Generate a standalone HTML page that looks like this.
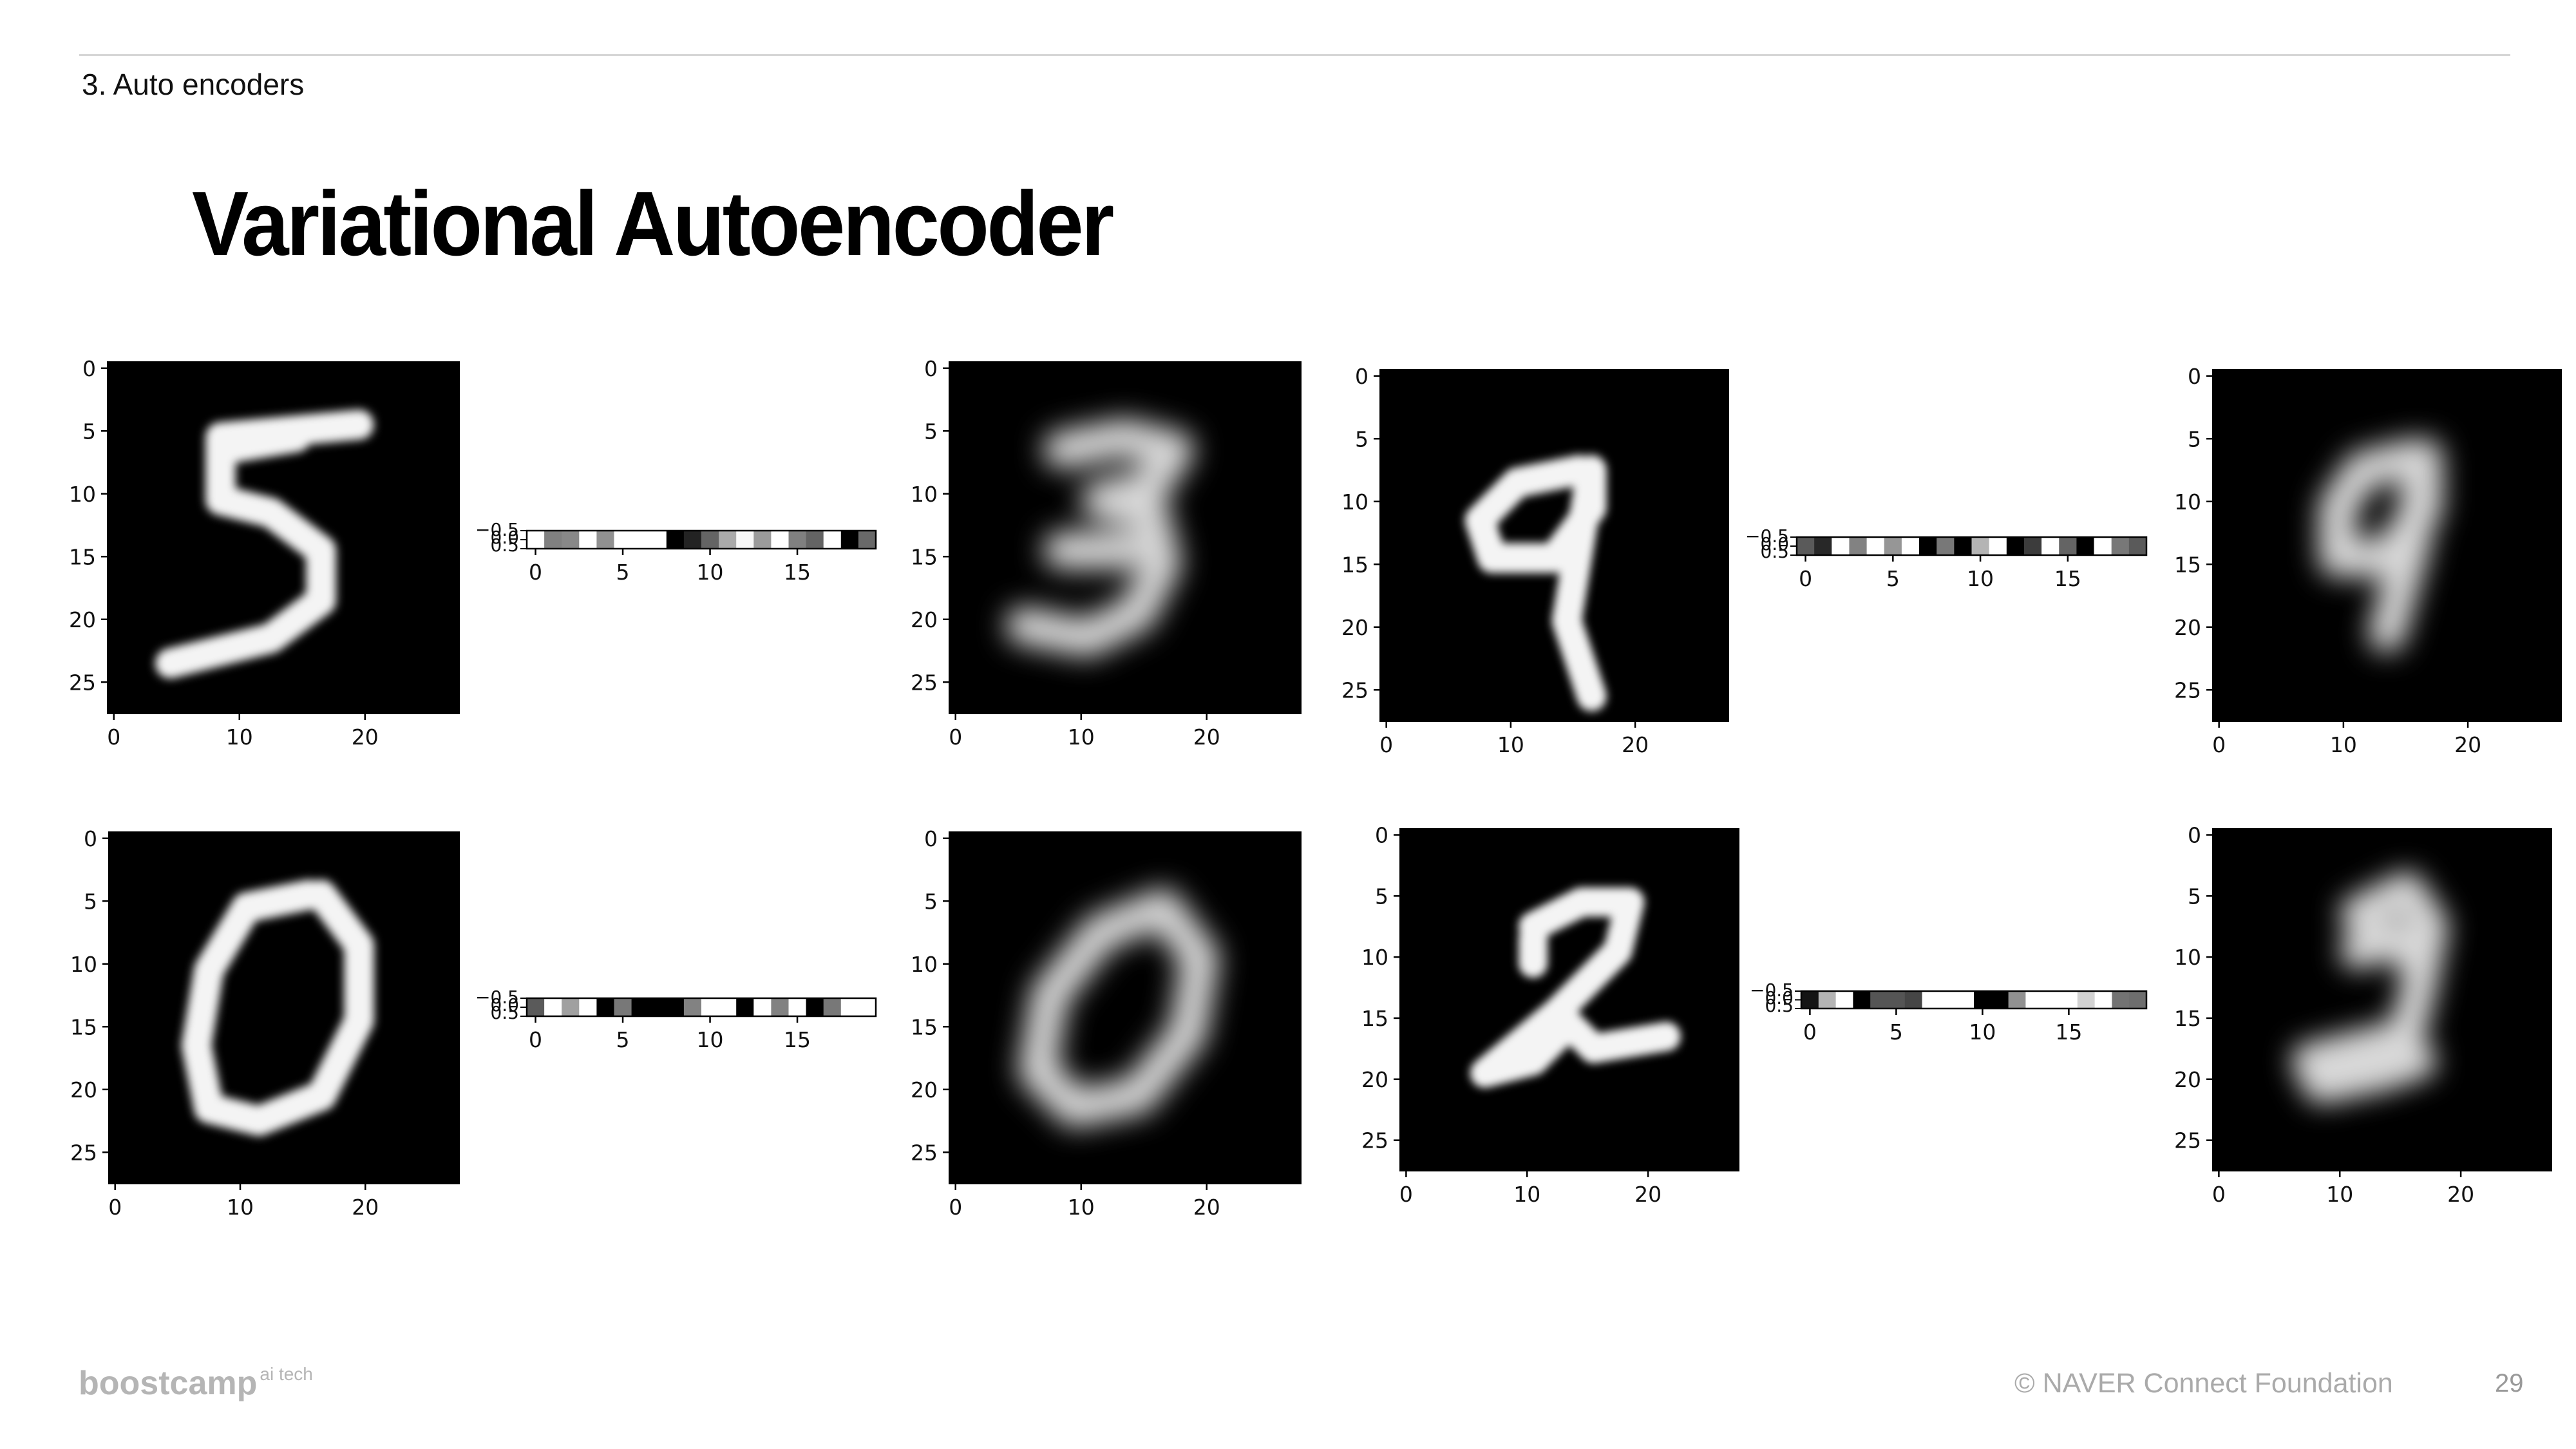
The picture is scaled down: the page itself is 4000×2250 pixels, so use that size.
<!DOCTYPE html>
<html><head><meta charset="utf-8"><style>
body{margin:0;width:4000px;height:2250px;background:#fff;position:relative;overflow:hidden;font-family:"Liberation Sans","Noto Sans CJK KR",sans-serif}
.t{position:absolute;white-space:nowrap}
</style></head><body>
<div style="position:absolute;left:123px;top:84px;width:3775px;height:3px;background:#d6d6d6"></div>
<div class="t" style="left:127px;top:104px;font-size:46px;color:#111">3. Auto encoders</div>
<div class="t" style="left:298px;top:266px;font-size:142px;font-weight:bold;letter-spacing:-4px;color:#000;transform:scaleX(0.93);transform-origin:left top">Variational Autoencoder</div>
<div class="t" style="left:122px;top:2118px;font-size:52px;font-weight:bold;color:#b5b5b5">boostcamp<span style="font-size:28px;font-weight:normal;vertical-align:top;margin-left:4px">ai tech</span></div>
<div class="t" style="left:3128px;top:2124px;font-size:43px;color:#aaa">© NAVER Connect Foundation</div>
<div class="t" style="left:3874px;top:2126px;font-size:40px;color:#999">29</div>
<svg id="s" width="4000" height="2250" style="position:absolute;left:0;top:0">
<defs>
<filter id="b1" filterUnits="userSpaceOnUse" x="0" y="0" width="28" height="28"><feGaussianBlur stdDeviation="0.35"/></filter>
<filter id="b2" filterUnits="userSpaceOnUse" x="0" y="0" width="28" height="28"><feGaussianBlur stdDeviation="1.1"/></filter>
</defs>
</svg>
<script>
const latent1=[255,128,136,255,145,255,255,255,0,35,100,170,248,155,255,128,100,255,0,105];
const latent2=[90,40,255,130,255,150,255,0,120,0,180,255,0,60,255,100,0,255,120,90];
const latent3=[90,255,160,255,0,120,0,0,0,130,255,255,0,255,130,255,0,120,255,255];
const latent4=[20,180,255,0,85,85,70,255,255,255,0,0,145,255,255,255,210,255,115,110];
const yTicks=[0,5,10,15,20,25];
const xTicks=[0,10,20];
const latTicks=[0,5,10,15];
const digits={
five:["M5,24 L13,22 L17,19 L17,15 L13,12 L9,11 L9,6 L20,5","M9,7 L15,6"],
three:["M9,7 L14,6 L18,7 L16,10 L12,11 L16,12 L17,16 L15,20 L11,22 L6,21","M9,15 L14,15"],
nine:["M16,8 L11,9 L8,12 L9,15 L14,15 L17,11 L17,8 L16,14 L15,20 L17,26"],
nine2:["M16,7 L12,8 L10,11 L10,15 L14,15 L17,11 L17,7 L16,14 L14,21"],
zero:["M16,5 L11,6 L8,11 L7,17 L8,22 L12,23 L17,21 L20,15 L20,9 L17,5"],
zero2:["M17,6 L12,8 L8,13 L7,19 L10,22 L15,21 L19,16 L20,10 L17,6"],
two:["M11,8 L15,6 L19,6 L18,10 L13,15 L7,20 L11,19 L14,16 L16,18 L22,17","M11,9 L11,11"],
two2:["M12,7 L16,5 L18,8 L17,13 L16,17 L12,18 L8,19 L9,21 L14,20 L17,19","M12,10 L15,9 L17,11"]
};
const panels=[
{x:167,y:562,w:546,h:546,d:"five",blur:"b1"},
{x:1474,y:562,w:546,h:546,d:"three",blur:"b2"},
{x:2143,y:574,w:541,h:546,d:"nine",blur:"b1"},
{x:3436,y:574,w:541,h:546,d:"nine2",blur:"b2"},
{x:169,y:1292,w:544,h:546,d:"zero",blur:"b1"},
{x:1474,y:1292,w:546,h:546,d:"zero2",blur:"b2"},
{x:2174,y:1287,w:526,h:531,d:"two",blur:"b1"},
{x:3436,y:1287,w:526,h:531,d:"two2",blur:"b2"}
];
const bars=[
{x:818,y:824,w:542,h:28,v:latent1},
{x:2790,y:834,w:543,h:28,v:latent2},
{x:818,y:1550,w:542,h:28,v:latent3},
{x:2797,y:1539,w:536,h:27,v:latent4}
];
const S=document.getElementById('s');const NS='http://www.w3.org/2000/svg';
function mk(t,a,p){const e=document.createElementNS(NS,t);for(const k in a)e.setAttribute(k,a[k]);(p||S).appendChild(e);return e;}
function txt(x,y,s,anchor,size){const e=mk('text',{x:x,y:y,'text-anchor':anchor,'font-size':size,'font-family':'DejaVu Sans, sans-serif',fill:'#111'});e.textContent=s;return e;}
panels.forEach((p,i)=>{
  const g=mk('g',{});
  
  
  mk('rect',{x:p.x,y:p.y,width:p.w,height:p.h,fill:'#000'},g);
  const sx=p.w/28, sy=p.h/28;
  const outer=mk('g',{transform:`translate(${p.x},${p.y}) scale(${sx},${sy})`},g);
  const inner=mk('g',{filter:`url(#${p.blur})`},outer);
  digits[p.d].forEach(d=>mk('path',{d:d,fill:'none',stroke:p.blur=='b1'?'#f4f4f4':'#d8d8d8','stroke-width':p.blur=='b1'?2.4:3,'stroke-linejoin':'round','stroke-linecap':'round'},inner));
  mk('rect',{x:p.x,y:p.y,width:p.w,height:p.h,fill:'none',stroke:'#000','stroke-width':2},g);
  yTicks.forEach(v=>{const y=p.y+(v+0.5)*sy;mk('line',{x1:p.x-10,x2:p.x,y1:y,y2:y,stroke:'#000','stroke-width':2.5},g);
    const t=txt(p.x-18,y+12,String(v),'end',33);});
  xTicks.forEach(v=>{const x=p.x+(v+0.5)*sx;mk('line',{x1:x,x2:x,y1:p.y+p.h,y2:p.y+p.h+10,stroke:'#000','stroke-width':2.5},g);
    const t=txt(x,p.y+p.h+48,String(v),'middle',33);});
});
bars.forEach((b,i)=>{
  const g=mk('g',{});
  
  
  const cw=b.w/b.v.length;
  b.v.forEach((v,j)=>{const r=mk('rect',{x:b.x+j*cw,y:b.y,width:cw+0.5,height:b.h,fill:`rgb(${v},${v},${v})`},g);
    });
  mk('rect',{x:b.x,y:b.y,width:b.w,height:b.h,fill:'none',stroke:'#000','stroke-width':2.5},g);
  [0,0.5,1].forEach(f=>{const y=b.y+f*b.h;mk('line',{x1:b.x-10,x2:b.x,y1:y,y2:y,stroke:'#000','stroke-width':2},g);});
  txt(b.x-12,b.y+8,'−0.5','end',28);txt(b.x-12,b.y+20,'0.0','end',28);txt(b.x-12,b.y+32,'0.5','end',28);
  latTicks.forEach(v=>{const x=b.x+(v+0.5)*cw;mk('line',{x1:x,x2:x,y1:b.y+b.h,y2:b.y+b.h+10,stroke:'#000','stroke-width':2.5},g);
    const t=txt(x,b.y+b.h+48,String(v),'middle',33);});
});
</script>
</body></html>
